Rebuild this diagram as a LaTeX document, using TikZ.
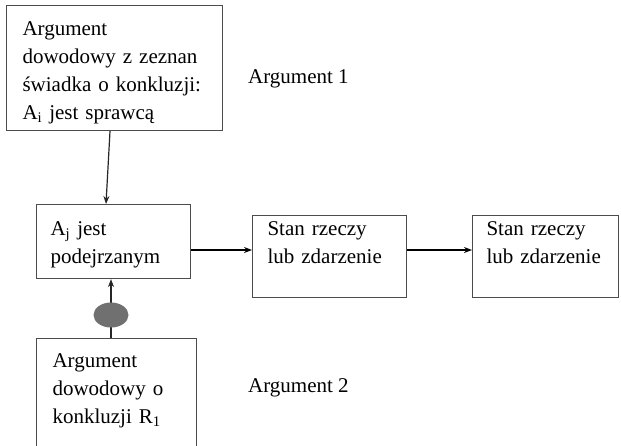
\documentclass[tikz,border=0pt]{standalone}
\usepackage{fontspec}
\setmainfont{Liberation Serif}
\usetikzlibrary{positioning,calc,shapes.geometric,arrows.meta}

\begin{document}
\begin{tikzpicture}[x=1pt,y=-1pt,
  box/.style={draw=black!70,line width=1.1pt,anchor=north west,align=left,inner sep=0pt,
    font=\fontsize{21}{28}\selectfont},
  napis/.style={anchor=base west,inner sep=0pt,font=\fontsize{21}{28}\selectfont},
  gruba/.style={line width=2.2pt,-{Stealth[length=8pt,width=6pt]}},
  cienka/.style={line width=1.2pt,black!85,-{Stealth[length=8pt,width=6pt]}}]
\clip (0,0) rectangle (621,445);
\fill[white] (0,0) rectangle (621,445);

% boxes
\node[box,text width=184pt,minimum width=216pt,minimum height=125pt,text depth=79pt] (arg1) at (6,5)
  {Argument\\dowodowy z zeznan\\świadka o konkluzji:\\A\textsubscript{i} jest sprawcą};
\node[box,text width=126pt,minimum width=154pt,minimum height=74pt,text depth=26pt] (podejrzany) at (36,204)
  {A\textsubscript{j} jest\\podejrzanym};
\node[box,text width=124pt,minimum width=154pt,minimum height=82pt,text depth=56pt] (stan1) at (252,215)
  {Stan rzeczy\\lub zdarzenie};
\node[box,text width=118pt,minimum width=146pt,minimum height=82pt,text depth=56pt] (stan2) at (472,215)
  {Stan rzeczy\\lub zdarzenie};
\node[box,text width=128pt,minimum width=160pt,minimum height=130pt,text depth=86pt] (arg2) at (36,338)
  {Argument\\dowodowy o\\konkluzji R\textsubscript{1}};

% labels
\node[napis] (etyk1) at (248,83) {Argument 1};
\node[napis] (etyk2) at (248,392) {Argument 2};

% arrows
\coordinate (os) at (0,250);
\draw[gruba] (podejrzany.east |- os) -- (stan1.west |- os);
\draw[gruba] (stan1.east |- os) -- (stan2.west |- os);
\draw[cienka] ($(arg1.south west)+(104,0)$) -- ($(podejrzany.north west)+(70,0)$);
\coordinate (kropka) at (111,315);
\draw[cienka] (arg2.north -| kropka) -- (podejrzany.south -| kropka);
\node[ellipse,fill=black!56,minimum width=35pt,minimum height=25pt,inner sep=0pt] (plama) at (kropka) {};
\end{tikzpicture}
\end{document}
